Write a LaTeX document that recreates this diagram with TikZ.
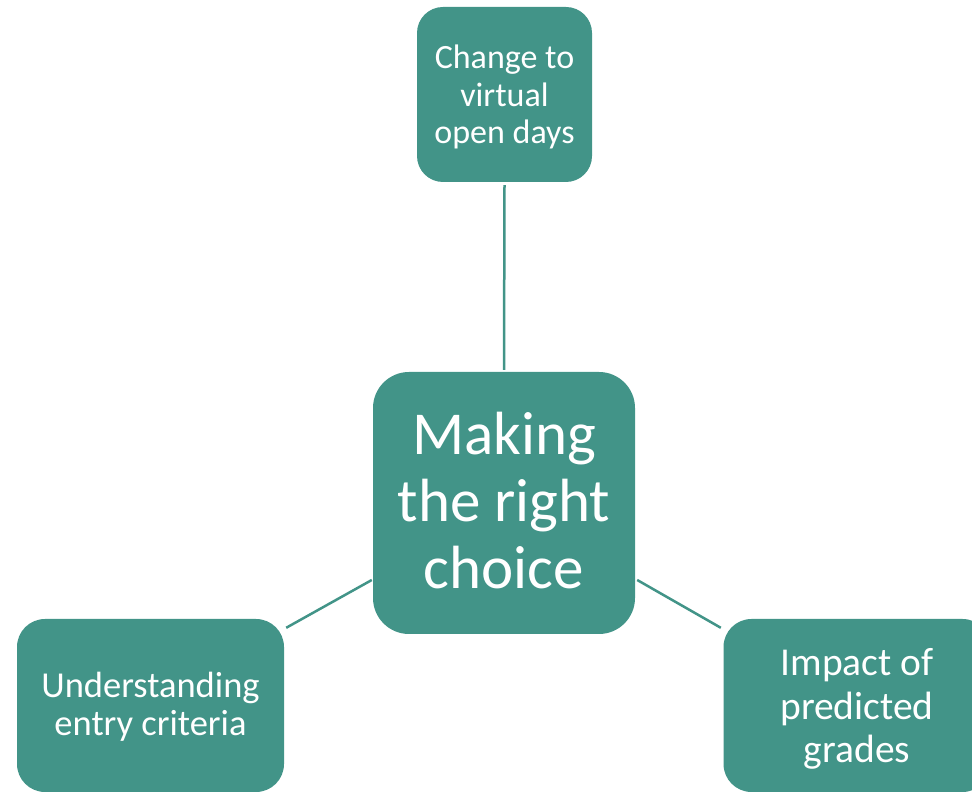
\documentclass[tikz,border=0pt]{standalone}
\usepackage{fontspec}
\setmainfont{Carlito}
\usetikzlibrary{calc}
\definecolor{teal}{RGB}{66,148,136}
\tikzset{
  box/.style={fill=teal, draw=none, inner sep=0pt},
  txt/.style={text=white, align=center, inner sep=0pt},
  link/.style={draw=teal, line width=2.5pt}
}
\begin{document}
\begin{tikzpicture}[x=1pt,y=1pt]
\useasboundingbox (0,0) rectangle (972,792);
\clip (0,0) rectangle (972,792);
\node[box, minimum width=175pt, minimum height=175pt, rounded corners=26pt,
  label={[txt, yshift=-2.5pt, font=\fontsize{34}{37.5}\selectfont]center:{Change to\\virtual\\open days}}] (top) at (504.5,697.5) {};
\node[box, minimum width=262pt, minimum height=262pt, rounded corners=36pt,
  label={[txt, yshift=2pt, font=\fontsize{61}{67}\selectfont]center:{Making\\the right\\choice}}] (ctr) at (504,289) {};
\node[box, minimum width=267pt, minimum height=173pt, rounded corners=28pt,
  label={[txt, yshift=-1.5pt, font=\fontsize{36.5}{37.5}\selectfont]center:{Understanding\\entry criteria}}] (lft) at (150.5,86.5) {};
\node[box, minimum width=267pt, minimum height=173pt, rounded corners=28pt,
  label={[txt, yshift=-3.5pt, font=\fontsize{39.5}{43.5}\selectfont]center:{Impact of\\predicted\\grades}}] (rgt) at (857,86.5) {};
\draw[link] ($(top.south)+(0,-3)$) -- ($(ctr.north)+(0,2)$);
\draw[link] ($(lft.north east)+(2,-9)$) -- ($(ctr.west)+(-1,-77)$);
\draw[link] ($(ctr.east)+(2,-77)$) -- ($(rgt.north west)+(-2.5,-9)$);
\end{tikzpicture}
\end{document}
